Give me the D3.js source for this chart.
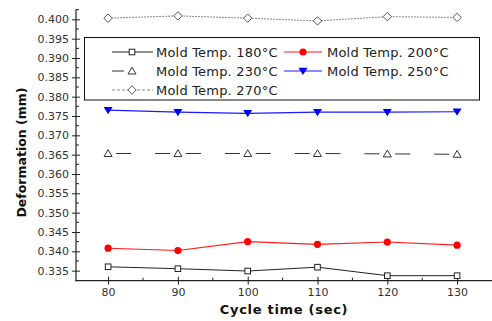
<!DOCTYPE html>
<html lang="en">
<head>
	<meta charset="UTF-8">
	<title>Deformation vs cycle time</title>
	<style>
		body { margin: 0; background: #fff; }
		text { font-family: "DejaVu Sans", sans-serif; }
	</style>
</head>
<body>
	<svg width="492" height="321"></svg>

	<script src="https://d3js.org/d3.v7.min.js"></script>
	<script>
		// data
		var cycleTime = [80, 90, 100, 110, 120, 130];
		var temp180 = [0.3360, 0.3355, 0.3349, 0.3359, 0.3337, 0.3337];
		var temp200 = [0.3408, 0.3402, 0.3425, 0.3418, 0.3424, 0.3416];
		var temp230 = [0.3653, 0.3653, 0.3653, 0.3653, 0.3652, 0.3651];
		var temp250 = [0.3765, 0.3760, 0.3757, 0.3760, 0.3760, 0.3761];
		var temp270 = [0.4003, 0.4009, 0.4003, 0.3996, 0.4007, 0.4005];
		var seriesNames = ["Mold Temp. 180°C", "Mold Temp. 200°C", "Mold Temp. 230°C", "Mold Temp. 250°C", "Mold Temp. 270°C"];
		var xTicks = [80, 90, 100, 110, 120, 130];
		var yTicks = d3.range(0.335, 0.4001, 0.005);

		var svg = d3.select("svg");

		var x = d3.scaleLinear().domain([75.4, 135]).range([76, 492]);
		var y = d3.scaleLinear().domain([0.3324, 0.4026]).range([280.7, 9.3]);

		// axes
		var yAxis = d3.axisLeft(y).tickValues(yTicks).tickFormat(d3.format(".3f")).tickSizeInner(-4).tickSizeOuter(0).tickPadding(7);
		var gy = svg.append("g").attr("transform", "translate(76,0)").call(yAxis);
		gy.selectAll(".tick line").attr("x1", -4);
		gy.select(".domain").remove();

		var xAxis = d3.axisBottom(x).tickValues(xTicks).tickSizeInner(-4).tickSizeOuter(0).tickPadding(8);
		var gx = svg.append("g").attr("transform", "translate(0,280.7)").call(xAxis);
		gx.selectAll(".tick line").attr("y1", 4);
		gx.select(".domain").remove();

		svg.selectAll(".tick text").attr("font-size", 11).attr("fill", "#333")
			.attr("font-family", "DejaVu Sans, sans-serif");
		svg.selectAll(".tick line").attr("stroke", "#222");

		// minor ticks, inside
		var yMinor = d3.range(0.3375, 0.4026, 0.005);
		svg.append("g").selectAll("line").data(yMinor).enter().append("line")
			.attr("x1", 76).attr("x2", 79)
			.attr("y1", function(d){ return y(d); }).attr("y2", function(d){ return y(d); })
			.attr("stroke", "#222");
		var xMinor = [85, 95, 105, 115, 125];
		svg.append("g").selectAll("line").data(xMinor).enter().append("line")
			.attr("y1", 280.7).attr("y2", 277.7)
			.attr("x1", function(d){ return x(d); }).attr("x2", function(d){ return x(d); })
			.attr("stroke", "#222");

		// axis lines
		svg.append("line").attr("x1", 76).attr("x2", 76).attr("y1", 9.3).attr("y2", 281.2)
			.attr("stroke", "#222").attr("stroke-width", 1.2);
		svg.append("line").attr("x1", 75.5).attr("x2", 492).attr("y1", 280.7).attr("y2", 280.7)
			.attr("stroke", "#222").attr("stroke-width", 1.2);

		// axis titles
		svg.append("text").attr("x", 284).attr("y", 314).attr("text-anchor", "middle")
			.attr("font-family", "Liberation Sans, Arial, sans-serif").attr("font-weight", "bold")
			.attr("font-size", 13).attr("letter-spacing", 0.7).attr("fill", "#111")
			.text("Cycle time (sec)");
		svg.append("text").attr("transform", "translate(26,152.5) rotate(-90)").attr("text-anchor", "middle")
			.attr("font-family", "Liberation Sans, Arial, sans-serif").attr("font-weight", "bold")
			.attr("font-size", 12.5).attr("fill", "#111")
			.text("Deformation (mm)");

		// symbols
		function drawSymbol(g, kind, cx, cy) {
			if (kind == "square") {
				g.append("rect").attr("x", cx - 2.8).attr("y", cy - 2.8).attr("width", 5.6).attr("height", 5.6)
					.attr("fill", "#fff").attr("stroke", "#222");
			} else if (kind == "circle") {
				g.append("circle").attr("cx", cx).attr("cy", cy).attr("r", 3.6).attr("fill", "#ff0000");
			} else if (kind == "triangle") {
				g.append("path").attr("d", "M" + cx + "," + (cy - 3.8) + "L" + (cx + 4) + "," + (cy + 3) + "L" + (cx - 4) + "," + (cy + 3) + "Z")
					.attr("fill", "#fff").attr("stroke", "#333");
			} else if (kind == "down") {
				g.append("path").attr("d", "M" + (cx - 4.5) + "," + (cy - 3.2) + "L" + (cx + 4.5) + "," + (cy - 3.2) + "L" + cx + "," + (cy + 4) + "Z")
					.attr("fill", "#0000ff");
			} else if (kind == "diamond") {
				g.append("path").attr("d", "M" + cx + "," + (cy - 4.2) + "L" + (cx + 4.2) + "," + cy + "L" + cx + "," + (cy + 4.2) + "L" + (cx - 4.2) + "," + cy + "Z")
					.attr("fill", "#fff").attr("stroke", "#555");
			}
		}

		var series = [
			{name: seriesNames[0], values: temp180, color: "#222", width: 1, dash: null, symbol: "square"},
			{name: seriesNames[1], values: temp200, color: "#ff1a1a", width: 1.1, dash: null, symbol: "circle"},
			{name: seriesNames[2], values: temp230, color: "#333", width: 1, dash: "seg", symbol: "triangle"},
			{name: seriesNames[3], values: temp250, color: "#1a1aff", width: 1.2, dash: null, symbol: "down"},
			{name: seriesNames[4], values: temp270, color: "#888", width: 1, dash: "2,1", symbol: "diamond"}
		];

		var line = d3.line()
			.x(function(d, i){ return x(cycleTime[i]); })
			.y(function(d){ return y(d); });

		series.forEach(function(s) {
			var g = svg.append("g");
			if (s.dash == "seg") {
				// dashes only around each point, as in the original
				for (var i = 0; i < s.values.length - 1; i++) {
					g.append("path").attr("d", line.x(function(d, j){ return x(cycleTime[i + j]); })([s.values[i], s.values[i + 1]]))
						.attr("fill", "none").attr("stroke", s.color).attr("stroke-width", s.width)
						.attr("stroke-dasharray", "0,8,15,24,15,8");
				}
				line.x(function(d, i){ return x(cycleTime[i]); });
			} else {
				g.append("path").attr("d", line(s.values))
					.attr("fill", "none").attr("stroke", s.color).attr("stroke-width", s.width)
					.attr("stroke-dasharray", s.dash);
			}
			s.values.forEach(function(v, i) {
				drawSymbol(g, s.symbol, x(cycleTime[i]), y(v));
			});
		});

		// legend
		var legend = svg.append("g");
		legend.append("rect").attr("x", 84.5).attr("y", 37.5).attr("width", 395).attr("height", 62.5)
			.attr("fill", "#fff").attr("stroke", "#111");
		var cols = [{x1: 112, x2: 153, sx: 132, tx: 156}, {x1: 284, x2: 322, sx: 303, tx: 327}];
		series.forEach(function(s, i) {
			var c = cols[i % 2];
			var ly = 52 + Math.floor(i / 2) * 19;
			var le = legend.append("g");
			var x2 = s.dash == "seg" ? c.x1 + 12 : c.x2;
			le.append("line").attr("x1", c.x1).attr("x2", x2).attr("y1", ly).attr("y2", ly)
				.attr("stroke", s.color).attr("stroke-width", s.width)
				.attr("stroke-dasharray", s.dash == "2,1" ? "3,2" : null);
			drawSymbol(le, s.symbol, c.sx, ly);
			le.append("text").attr("x", c.tx).attr("y", ly + 4.6)
				.attr("font-size", 13).attr("letter-spacing", 0.2).attr("fill", "#222")
				.text(s.name);
		});
	</script>
</body>
</html>
